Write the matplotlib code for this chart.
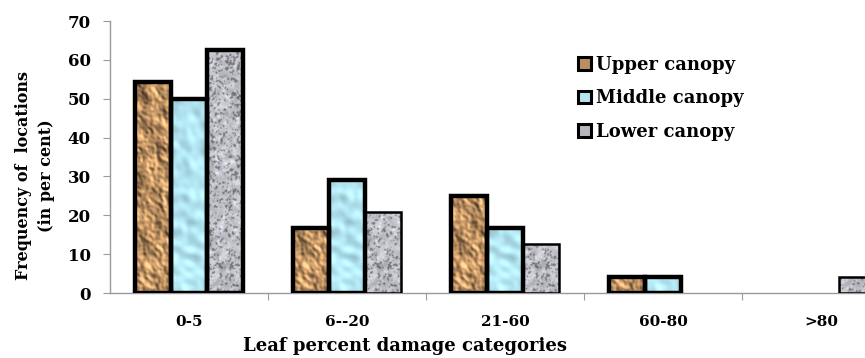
import numpy as np
import matplotlib
matplotlib.use("Agg")
import matplotlib.pyplot as plt
from matplotlib.patches import Patch

# ---- data -------------------------------------------------------------
categories = ["0-5", "6--20", "21-60", "60-80", ">80"]
series_names = ["Upper canopy", "Middle canopy", "Lower canopy"]
upper = [54.2, 16.7, 25.0, 4.2, 0.0]
middle = [50.0, 29.2, 16.7, 4.2, 0.0]
lower = [62.5, 20.8, 12.5, 0.0, 4.2]
y_ticks = [0, 10, 20, 30, 40, 50, 60, 70]

SERIF = ["DejaVu Serif"]
plt.rcParams["font.family"] = SERIF
plt.rcParams["font.weight"] = "bold"

# ---- procedural fill textures -----------------------------------------
rng = np.random.default_rng(11)
TH, TW = 560, 80


def blur(a, s):
    ky = np.fft.fftfreq(a.shape[0])
    kx = np.fft.fftfreq(a.shape[1])
    g = np.exp(-2 * (np.pi * s) ** 2 * (ky[:, None] ** 2 + kx[None, :] ** 2))
    return np.real(np.fft.ifft2(np.fft.fft2(a) * g))


def norm(a):
    return (a - a.mean()) / a.std()


def paper_texture():
    n = norm(blur(rng.standard_normal((TH, TW)), 9)) + 0.5 * norm(blur(rng.standard_normal((TH, TW)), 3))
    gy, gx = np.gradient(n)
    shade = np.clip(norm(0.8 * gx + 0.6 * gy), -2.5, 2.5)
    base = np.array([0.73, 0.56, 0.38])
    img = base[None, None, :] * (1 + 0.22 * shade[..., None] + 0.04 * n[..., None])
    return np.clip(img, 0, 1)


def water_texture():
    n = norm(blur(rng.standard_normal((TH, TW)), 7))
    gy, gx = np.gradient(n)
    shade = np.clip(norm(gx + gy), -2.5, 2.5)
    base = np.array([0.70, 0.90, 0.95])
    img = base[None, None, :] * (1 + 0.05 * shade[..., None] + 0.03 * n[..., None])
    return np.clip(img, 0, 1)


def granite_texture():
    coarse = norm(blur(rng.standard_normal((TH, TW)), 4))
    fine = norm(blur(rng.standard_normal((TH, TW)), 1.4))
    base = np.array([0.76, 0.76, 0.79])
    v = 1 + 0.05 * coarse
    v = np.where(fine > 0.9, v * 0.62, v)
    v = np.where(fine < -1.4, v * 1.12, v)
    img = base[None, None, :] * v[..., None]
    return np.clip(img, 0, 1)


textures = [paper_texture(), water_texture(), granite_texture()]
mean_colors = [tuple(t.reshape(-1, 3).mean(axis=0)) for t in textures]

# ---- figure ------------------------------------------------------------
fig = plt.figure(figsize=(8.65, 3.58), dpi=100)
ax = fig.add_axes([110 / 865, 65 / 358, 790 / 865, 272 / 358])

x = np.arange(len(categories))
width = 0.227
offsets = [-width, 0.0, width]
edge_widths = [
    [3.2] * 5,
    [3.2] * 5,
    [3.2, 1.8, 1.8, 1.8, 1.8],
]

for values, off, tex, col, lws in zip([upper, middle, lower], offsets, textures, mean_colors, edge_widths):
    vals = np.asarray(values, dtype=float)
    keep = vals > 0
    xs = x[keep] + off
    fills = ax.bar(xs, vals[keep], width=width, color=col, linewidth=0, zorder=2)
    for patch in fills.patches:
        x0 = patch.get_x()
        im = ax.imshow(tex, extent=(x0, x0 + width, 0, 70), origin="lower",
                       aspect="auto", interpolation="bilinear", zorder=2.5)
        im.set_clip_path(patch)
    ax.bar(xs, vals[keep], width=width, facecolor="none", edgecolor="black",
           linewidth=[lw for lw, k in zip(lws, keep) if k], zorder=3)

ax.set_xlim(-0.5, len(categories) - 0.5)
ax.set_ylim(0, 70)
ax.set_aspect("auto")

for side in ["top", "right"]:
    ax.spines[side].set_visible(False)
for side in ["left", "bottom"]:
    ax.spines[side].set_color("#9a9a9a")
    ax.spines[side].set_linewidth(1.0)

ax.set_yticks(y_ticks)
ax.set_yticklabels([str(v) for v in y_ticks], fontsize=12, fontweight="bold")
ax.tick_params(axis="y", length=5, color="#9a9a9a", pad=9)

ax.set_xticks(np.arange(len(categories) - 1) + 0.5)
ax.set_xticklabels([])
ax.set_xticks(x, minor=True)
ax.set_xticklabels(categories, minor=True, fontsize=11, fontweight="bold")
ax.tick_params(axis="x", which="major", length=5, color="#9a9a9a")
ax.tick_params(axis="x", which="minor", length=0, pad=16)

fig.text(35 / 865, 1 - 176 / 358, "Frequency of  locations\n(in per cent)",
         rotation=90, ha="center", va="center", fontsize=11.5, fontweight="bold",
         linespacing=1.4)
fig.text(405 / 865, 1 - 351 / 358, "Leaf percent damage categories",
         ha="center", va="baseline", fontsize=13, fontweight="bold")

handles = [Patch(facecolor=c, edgecolor="black", linewidth=2.2) for c in mean_colors]
fig.legend(handles, series_names, loc="upper left",
           bbox_to_anchor=(569 / 865, 1 - 47 / 358), frameon=False,
           prop={"family": SERIF, "weight": "bold", "size": 13},
           handlelength=0.7, handleheight=0.7, handletextpad=0.3,
           labelspacing=0.85, borderpad=0)

fig.savefig("out.png", dpi=100)
